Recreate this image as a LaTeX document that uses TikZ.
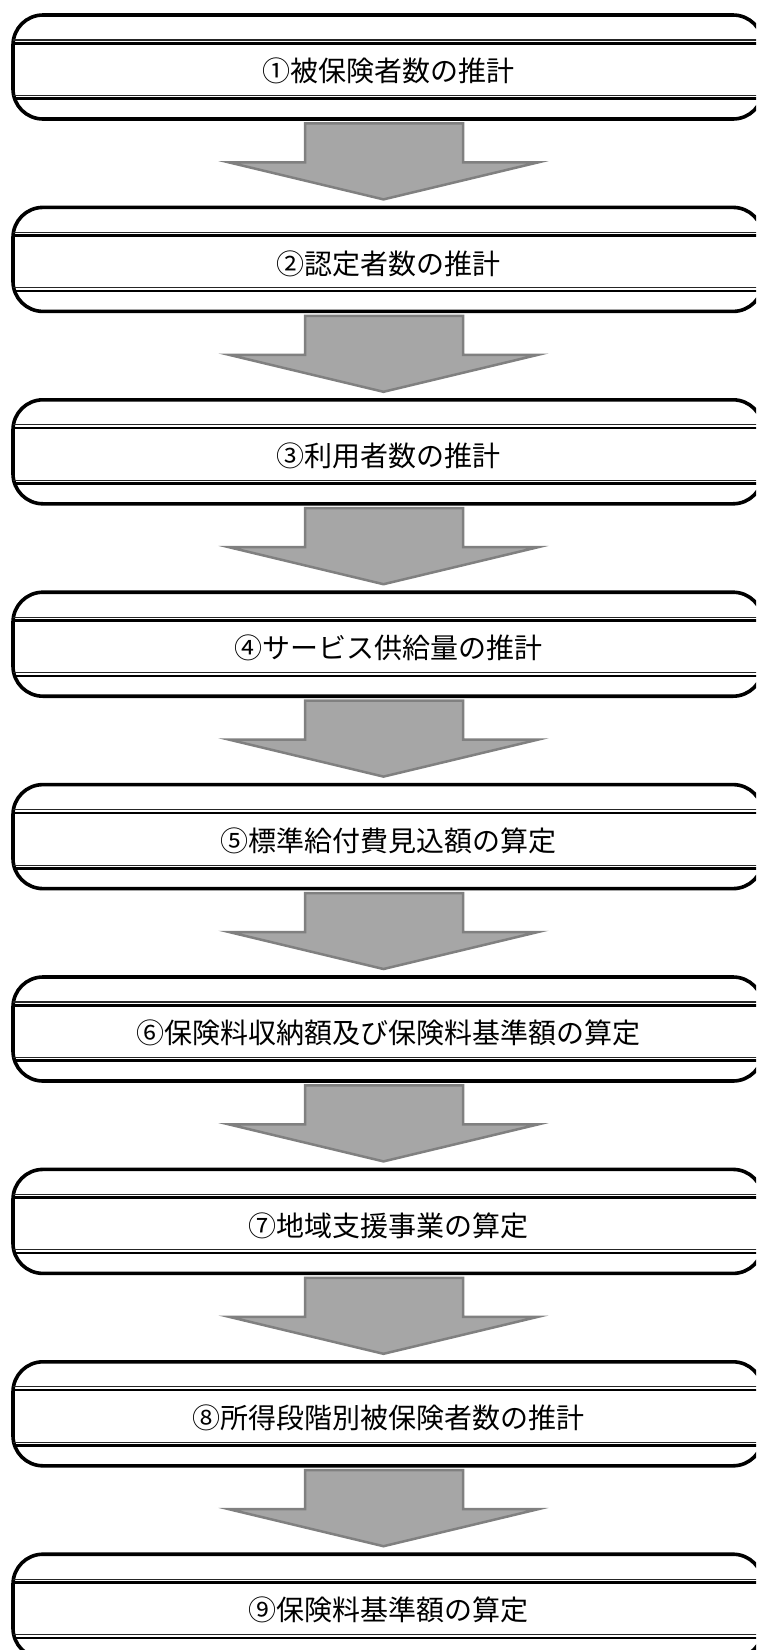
\documentclass[tikz,border=0pt]{standalone}
\usepackage{fontspec}
\setmainfont{Noto Sans CJK JP}
\usepackage{tikz}
\usetikzlibrary{calc, positioning}

\definecolor{arrowfill}{HTML}{A6A6A6}
\definecolor{arrowedge}{HTML}{808080}

\tikzset{
    stepbox/.style={draw=black, line width=3.6pt, rounded corners=30pt, fill=white,
        minimum width=750pt, minimum height=104pt, inner sep=0pt, outer sep=0pt},
    steplabel/.style={font=\fontsize{28}{32}\selectfont, inner sep=0pt, yshift=-4pt},
    thinrule/.style={line width=1.1pt, black!85},
    thickrule/.style={line width=2.6pt, black},
    flowarrow/.style={fill=arrowfill, draw=arrowedge, line width=2.5pt, line join=miter}
}

\begin{document}
\begin{tikzpicture}[x=1pt, y=-1pt]
\useasboundingbox (0,0) rectangle (756,1650);
\clip (0,0) rectangle (756,1650);

% Steps
\foreach \txt [count=\i] in {①被保険者数の推計, ②認定者数の推計, ③利用者数の推計,
    ④サービス供給量の推計, ⑤標準給付費見込額の算定,
    ⑥保険料収納額及び保険料基準額の算定, ⑦地域支援事業の算定,
    ⑧所得段階別被保険者数の推計, ⑨保険料基準額の算定} {
    \node[stepbox, label={[steplabel, name=t\i]center:\txt}] (s\i) at (388,{67+192.4*(\i-1)}) {};
    % double rules
    \draw[thinrule] ([yshift=-25pt]s\i.north west) -- ([yshift=-25pt]s\i.north east);
    \draw[thickrule] ([yshift=-28.3pt]s\i.north west) -- ([yshift=-28.3pt]s\i.north east);
    \draw[thinrule] ([yshift=-80.5pt]s\i.north west) -- ([yshift=-80.5pt]s\i.north east);
    \draw[thickrule] ([yshift=-83.7pt]s\i.north west) -- ([yshift=-83.7pt]s\i.north east);
}

% Block arrows
\foreach \i in {1,...,8} {
    \pgfmathtruncatemacro{\j}{\i+1}
    \draw[flowarrow] ($(s\j.north)+(-83,-84)$) -- ($(s\j.north)+(75,-84)$)
        -- ($(s\j.north)+(75,-45)$) -- ($(s\j.north)+(150,-45)$)
        -- ($(s\j.north)+(-4.5,-8)$) -- ($(s\j.north)+(-159,-45)$)
        -- ($(s\j.north)+(-83,-45)$) -- cycle;
}

\end{tikzpicture}
\end{document}
